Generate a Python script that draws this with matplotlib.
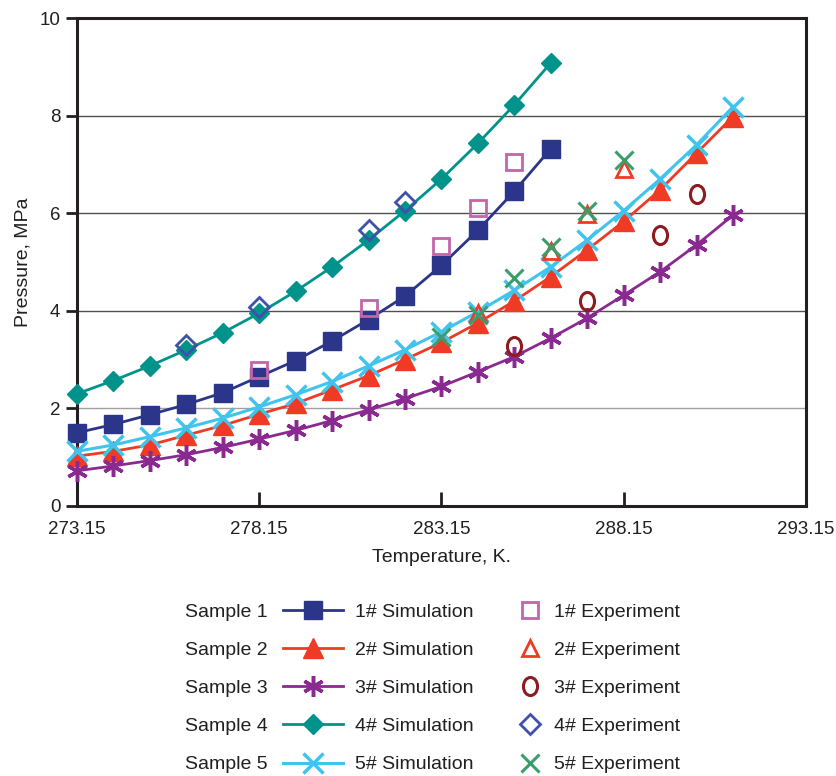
import numpy as np
import matplotlib
matplotlib.use('Agg')
import matplotlib.pyplot as plt
from matplotlib.markers import MarkerStyle
from matplotlib.transforms import Affine2D

# temperatures, K
temp = np.arange(273.15, 291.16, 1.0)

# simulation curves, MPa
sim1 = [1.50, 1.67, 1.87, 2.08, 2.32, 2.65, 2.98, 3.38, 3.82, 4.30, 4.93, 5.65, 6.45, 7.32]
sim2 = [1.02, 1.12, 1.25, 1.45, 1.65, 1.88, 2.10, 2.38, 2.67, 3.00, 3.35, 3.75, 4.20, 4.70,
        5.25, 5.83, 6.48, 7.23, 7.98]
sim3 = [0.72, 0.82, 0.93, 1.05, 1.20, 1.37, 1.55, 1.75, 1.97, 2.20, 2.45, 2.75, 3.06, 3.44,
        3.85, 4.32, 4.80, 5.35, 5.96]
sim4 = [2.30, 2.57, 2.87, 3.20, 3.55, 3.95, 4.40, 4.90, 5.45, 6.05, 6.70, 7.43, 8.22, 9.08]
sim5 = [1.12, 1.25, 1.42, 1.60, 1.80, 2.03, 2.28, 2.55, 2.87, 3.20, 3.57, 3.98, 4.42, 4.90,
        5.45, 6.05, 6.70, 7.40, 8.18]

# experiments
exp1_t = [278.15, 281.15, 283.15, 284.15, 285.15]
exp1_p = [2.78, 4.05, 5.33, 6.10, 7.04]
exp2_t = [284.15, 286.15, 287.15, 288.15]
exp2_p = [3.95, 5.22, 5.98, 6.90]
exp3_t = [285.15, 287.15, 289.15, 290.15]
exp3_p = [3.27, 4.20, 5.55, 6.40]
exp4_t = [276.15, 278.15, 281.15, 282.15]
exp4_p = [3.30, 4.08, 5.65, 6.22]
exp5_t = [283.15, 284.15, 285.15, 286.15, 287.15, 288.15]
exp5_p = [3.47, 3.92, 4.67, 5.30, 6.05, 7.10]

grid_y = [2, 4, 6, 8]
grid_c = ['#a0a0a0', '#505050', '#505050', '#505050']
x_ticks = [273.15, 278.15, 283.15, 288.15, 293.15]
sample_names = ['Sample 1', 'Sample 2', 'Sample 3', 'Sample 4', 'Sample 5']

plt.rcParams['font.family'] = ['Liberation Sans', 'DejaVu Sans']
txt = '#231f20'
fs = 14

fig = plt.figure(figsize=(8.36, 7.76), dpi=100)
ax = fig.add_axes([0.0921, 0.348, 0.8719, 0.6288])

for gy, gc in zip(grid_y, grid_c):
    ax.axhline(gy, color=gc, lw=1.0, zorder=0)

ast = (6, 2, 0)
oval = MarkerStyle('o', transform=Affine2D().scale(0.78, 1.0))

l1, = ax.plot(temp[:len(sim1)], sim1, color='#2b3589', lw=2, marker='s', ms=13,
              clip_on=False, zorder=3, label='1# Simulation')
l2, = ax.plot(temp[:len(sim2)], sim2, color='#ef3a25', lw=2, marker='^', ms=14,
              clip_on=False, zorder=3, label='2# Simulation')
l3, = ax.plot(temp[:len(sim3)], sim3, color='#8a2a90', lw=2, marker=ast, ms=15, mew=2.5,
              clip_on=False, zorder=3, label='3# Simulation')
l4, = ax.plot(temp[:len(sim4)], sim4, color='#00938c', lw=2, marker='D', ms=10,
              clip_on=False, zorder=3, label='4# Simulation')
l5, = ax.plot(temp[:len(sim5)], sim5, color='#40c4ee', lw=2.2, marker='x', ms=15, mew=2.5,
              clip_on=False, zorder=3, label='5# Simulation')

e1, = ax.plot(exp1_t, exp1_p, ls='none', marker='s', ms=12, mfc='none', mec='#c266aa',
              mew=2, zorder=4, label='1# Experiment')
e2, = ax.plot(exp2_t, exp2_p, ls='none', marker='^', ms=12, mfc='none', mec='#ef3a25',
              mew=2, zorder=4, label='2# Experiment')
e3, = ax.plot(exp3_t, exp3_p, ls='none', marker=oval, ms=13, mfc='none', mec='#8e1b1e',
              mew=2.2, zorder=4, label='3# Experiment')
e4, = ax.plot(exp4_t, exp4_p, ls='none', marker='D', ms=10, mfc='none', mec='#3f51a8',
              mew=2, zorder=4, label='4# Experiment')
e5, = ax.plot(exp5_t, exp5_p, ls='none', marker='x', ms=13, mfc='none', mec='#3a9e6c',
              mew=2.2, zorder=4, label='5# Experiment')

ax.set_xlim(273.15, 293.15)
ax.set_ylim(0, 10)
ax.set_xticks(x_ticks)
ax.set_xticklabels(['%.2f' % t for t in x_ticks])
ax.set_yticks(range(0, 11, 2))
for s in ax.spines.values():
    s.set_linewidth(2.2)
    s.set_color(txt)
ax.tick_params(axis='x', direction='in', length=10, width=2, pad=11, labelsize=13.5,
               colors=txt)
ax.tick_params(axis='y', direction='out', length=8, width=2, pad=4, labelsize=13.5,
               colors=txt)
ax.set_xlabel('Temperature, K.', fontsize=fs, color=txt, labelpad=8)
ax.set_ylabel('Pressure, MPa', fontsize=fs, color=txt, labelpad=6)

top = 0.223
common = dict(frameon=False, fontsize=fs, labelspacing=1.06, borderpad=0,
              borderaxespad=0, loc='upper left', labelcolor=txt)

dummy = [plt.Line2D([], [], ls='none') for _ in sample_names]
leg0 = fig.legend(dummy, sample_names, bbox_to_anchor=(0.221, top), handlelength=0,
                  handletextpad=0, **common)
sims = [l1, l2, l3, l4, l5]
exps = [e1, e2, e3, e4, e5]
leg1 = fig.legend(sims, [h.get_label() for h in sims], bbox_to_anchor=(0.3385, top),
                  handlelength=3.09, handletextpad=0.62, **common)
leg2 = fig.legend(exps, [h.get_label() for h in exps], bbox_to_anchor=(0.622, top),
                  handlelength=1.07, handletextpad=0.67, **common)

fig.savefig('out.png', dpi=100)
